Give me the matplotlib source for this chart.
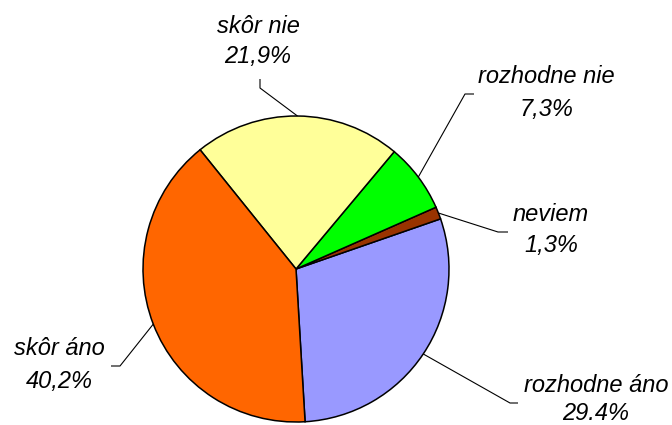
import numpy as np
import matplotlib.pyplot as plt

# data, counter-clockwise from the bottom
labels = ['rozhodne áno', 'neviem', 'rozhodne nie', 'skôr nie', 'skôr áno']
values = [29.4, 1.3, 7.3, 21.9, 40.2]
pct_text = ['29.4%', '1,3%', '7,3%', '21,9%', '40,2%']
colors = ['#9999FF', '#993300', '#00FF00', '#FFFF99', '#FF6600']

W, H = 672, 425
fig = plt.figure(figsize=(W / 100, H / 100), dpi=100)
ax = fig.add_axes([0, 0, 1, 1])

cx, cy, r = 296, H - 269, 153
wedges, _ = ax.pie(values, colors=colors, startangle=-86.6, counterclock=True,
                   center=(cx, cy), radius=r, frame=True,
                   wedgeprops=dict(edgecolor='black', linewidth=1.1))
ax.set_xlim(0, W)
ax.set_ylim(0, H)
ax.axis('off')

# leader line elbows / ends and label positions (image pixels)
elbows = [(510, 403), (498, 232), (465, 94), (260, 88), (120, 366)]
ends = [(518, 403), (508, 232), (474, 94), (260, 79), (111, 366)]
text_x = [596, 551, 546, 258, 59]
base1 = [392, 221, 83, 33, 355]
base2 = [420, 252, 116, 63, 388]

font = dict(family='Liberation Sans', style='italic', fontsize=17, color='black')
for i, w in enumerate(wedges):
    mid = np.deg2rad((w.theta1 + w.theta2) / 2)
    px, py = cx + r * np.cos(mid), cy + r * np.sin(mid)
    ex, ey = elbows[i]
    tx, ty = ends[i]
    ax.plot([px, ex, tx], [py, H - ey, H - ty], color='black', lw=0.8,
            solid_capstyle='butt')
    ax.text(text_x[i], H - base1[i], labels[i], ha='center', va='baseline', **font)
    ax.text(text_x[i], H - base2[i], pct_text[i], ha='center', va='baseline', **font)

fig.savefig('out.png', dpi=100)
